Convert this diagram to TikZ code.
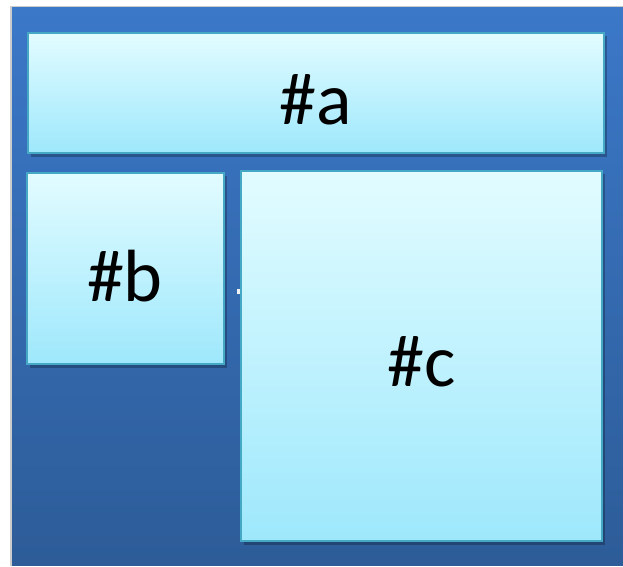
\documentclass[tikz,border=0pt]{standalone}
\usepackage{fontspec}
\setmainfont{Carlito}
\definecolor{bgtop}{HTML}{3B78C8}
\definecolor{bgbot}{HTML}{2D5C98}
\definecolor{boxtop}{HTML}{E2FCFF}
\definecolor{boxbot}{HTML}{9EE8FC}
\definecolor{boxline}{HTML}{45A8C4}
\begin{document}
\begin{tikzpicture}[x=1pt,y=-1pt,
  panel/.style={draw=boxline,line width=1.6pt,top color=boxtop,bottom color=boxbot,inner sep=0},
  paneltext/.style={font=\fontsize{74}{74}\selectfont,text=black,inner sep=0},
  dropshadow/.style={fill=black,opacity=0.25}]
\useasboundingbox (0,0) rectangle (623,566);
\fill[white] (0,0) rectangle (623,566);
\fill[gray!40] (10,6) rectangle (623,566);
\shade[top color=bgtop,bottom color=bgbot] (12,7) rectangle (623,565);
% shadows
\fill[dropshadow] (31,36) rectangle (607,157);
\fill[dropshadow] (30,176) rectangle (227,368);
\fill[dropshadow] (244,174) rectangle (605,545);
% panels
\node[panel,minimum width=576,minimum height=120] (a) at (316,93) {};
\node[panel,minimum width=197,minimum height=191] (b) at (125.5,268.5) {};
\node[panel,minimum width=361,minimum height=370] (c) at (421.5,356) {};
\node[paneltext] (ta) at (316,100) {\#a};
\node[paneltext] (tb) at (125,276) {\#b};
\node[paneltext] (tc) at (422,362) {\#c};
\fill[white!90!gray] (237,289) rectangle (240,294);
\end{tikzpicture}
\end{document}
